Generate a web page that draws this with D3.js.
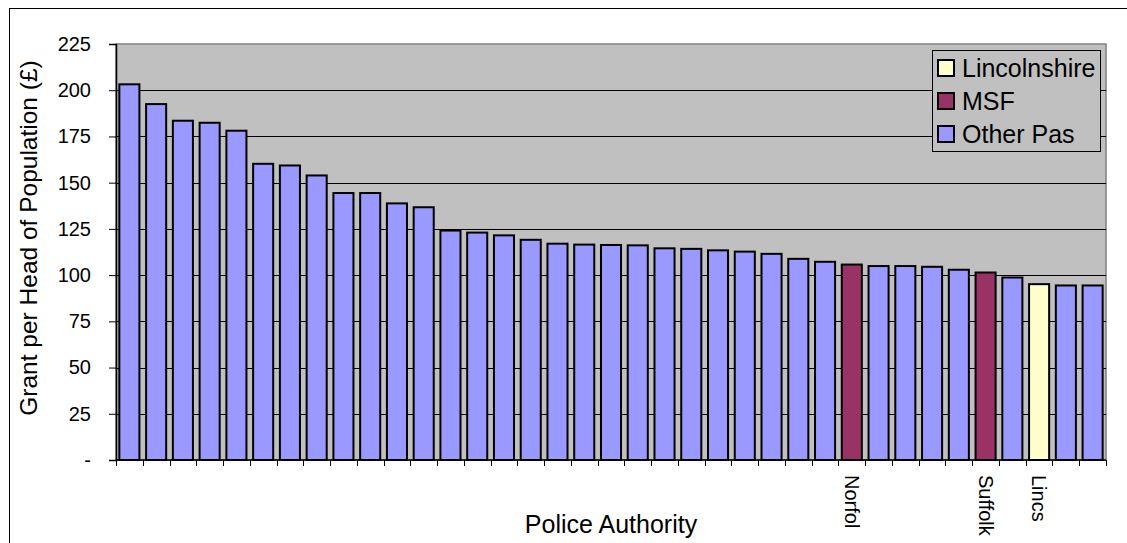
<!DOCTYPE html>
<html>
<head>
<meta charset="utf-8">
<script src="https://cdn.jsdelivr.net/npm/d3@7"></script>
<style>
  html, body { margin: 0; padding: 0; background: #fff; }
  svg { display: block; font-family: "Liberation Sans", Arial, sans-serif; }
</style>
</head>
<body>
<svg id="chart" width="1127" height="543"></svg>
<script>
// Police authorities, ranked by grant per head of population
const authorities = [
  "", "", "", "", "", "", "", "", "", "", "", "", "", "", "", "", "", "", "",
  "", "", "", "", "", "", "", "", "Norfol", "", "", "", "", "Suffolk", "",
  "Lincs", "", ""
];
const grantPerHead = [
  203.2, 192.5, 183.5, 182.4, 178.1, 160.2, 159.3, 153.9, 144.4, 144.4,
  138.8, 136.7, 124.1, 123.0, 121.5, 119.1, 117.0, 116.5, 116.3, 116.1,
  114.5, 114.2, 113.4, 112.7, 111.5, 108.8, 107.2, 105.7, 104.9, 104.9,
  104.5, 102.9, 101.4, 98.7, 95.1, 94.4, 94.4
];
const groups = authorities.map(a =>
  a === "Lincs" ? "Lincolnshire" : (a === "Norfol" || a === "Suffolk") ? "MSF" : "Other Pas");
const legendNames = ["Lincolnshire", "MSF", "Other Pas"];
const legendColors = ["#FFFFCC", "#993366", "#9999FF"];
const yTicks = [0, 25, 50, 75, 100, 125, 150, 175, 200, 225];

const svg = d3.select("#chart");
const plot = { left: 116, right: 1106, top: 44, bottom: 460 };
const ids = grantPerHead.map((_, i) => i);

const color = d3.scaleOrdinal().domain(legendNames).range(legendColors);
const y = d3.scaleLinear().domain([0, 225]).range([plot.bottom, plot.top]);
const xCat = d3.scaleBand().domain(ids).range([plot.left, plot.right]).padding(0);
const xBar = d3.scaleBand().domain(ids).range([plot.left, plot.right])
  .paddingInner(0.25).paddingOuter(0.125);

// chart frame
svg.append("rect")
  .attr("x", 9.5).attr("y", 8.5).attr("width", 1200).attr("height", 600)
  .attr("fill", "#fff").attr("stroke", "#000").attr("stroke-width", 1);

// plot area
svg.append("rect")
  .attr("x", plot.left).attr("y", plot.top)
  .attr("width", plot.right - plot.left).attr("height", plot.bottom - plot.top)
  .attr("fill", "#C0C0C0").attr("stroke", "#808080").attr("stroke-width", 1.5);

// gridlines
svg.append("g").selectAll("line")
  .data(yTicks.filter(t => t > 0 && t < 225))
  .join("line")
  .attr("x1", plot.left).attr("x2", plot.right)
  .attr("y1", d => Math.round(y(d)) + 0.5).attr("y2", d => Math.round(y(d)) + 0.5)
  .attr("stroke", "#000").attr("stroke-width", 1);

// bars
svg.append("g").selectAll("rect")
  .data(ids)
  .join("rect")
  .attr("x", i => xBar(i))
  .attr("y", i => y(grantPerHead[i]))
  .attr("width", xBar.bandwidth())
  .attr("height", i => y(0) - y(grantPerHead[i]))
  .attr("fill", i => color(groups[i]))
  .attr("stroke", "#000").attr("stroke-width", 2);

// y axis
const yAxis = d3.axisLeft(y).tickValues(yTicks).tickSize(7).tickPadding(18)
  .tickFormat(d => d === 0 ? "-" : d3.format("d")(d));
const gy = svg.append("g").attr("transform", `translate(${plot.left},0)`).call(yAxis);
gy.select(".domain").attr("stroke", "#000").attr("stroke-width", 1.5);
gy.selectAll(".tick line").attr("stroke", "#000");
gy.selectAll(".tick text").attr("font-size", 20).attr("fill", "#000")
  .attr("font-family", '"Liberation Sans", Arial, sans-serif');

// x axis: ticks at category boundaries
const boundaries = ids.map(i => xCat(i)).concat([plot.right]);
svg.append("line")
  .attr("x1", plot.left).attr("x2", plot.right)
  .attr("y1", plot.bottom).attr("y2", plot.bottom)
  .attr("stroke", "#000").attr("stroke-width", 1.5);
svg.append("g").selectAll("line")
  .data(boundaries)
  .join("line")
  .attr("x1", d => Math.round(d) + 0.5).attr("x2", d => Math.round(d) + 0.5)
  .attr("y1", plot.bottom).attr("y2", plot.bottom + 6)
  .attr("stroke", "#000").attr("stroke-width", 1);

// category labels, rotated
svg.append("g").selectAll("text")
  .data(ids.filter(i => authorities[i] !== ""))
  .join("text")
  .attr("transform", i => `translate(${xCat(i) + xCat.bandwidth() / 2},${plot.bottom + 15}) rotate(90)`)
  .attr("dy", "0.35em")
  .attr("font-size", 20)
  .attr("fill", "#000")
  .text(i => authorities[i]);

// axis titles
svg.append("text")
  .attr("x", (plot.left + plot.right) / 2).attr("y", 533)
  .attr("text-anchor", "middle").attr("font-size", 25)
  .text("Police Authority");
svg.append("text")
  .attr("transform", `translate(37,238) rotate(-90)`)
  .attr("text-anchor", "middle").attr("font-size", 24.5)
  .text("Grant per Head of Population (£)");

// legend
const lg = svg.append("g");
lg.append("rect")
  .attr("x", 932.5).attr("y", 50.5).attr("width", 168).attr("height", 101)
  .attr("fill", "#C0C0C0").attr("stroke", "#000").attr("stroke-width", 1);
const items = lg.selectAll("g.item").data(legendNames).join("g")
  .attr("class", "item")
  .attr("transform", (d, i) => `translate(938,${68 + i * 33})`);
items.append("rect")
  .attr("x", 0).attr("y", -8).attr("width", 16).attr("height", 16)
  .attr("fill", d => color(d)).attr("stroke", "#000").attr("stroke-width", 2);
items.append("text")
  .attr("x", 24).attr("dy", "0.35em")
  .attr("font-size", 25).attr("fill", "#000")
  .text(d => d);
</script>
</body>
</html>
